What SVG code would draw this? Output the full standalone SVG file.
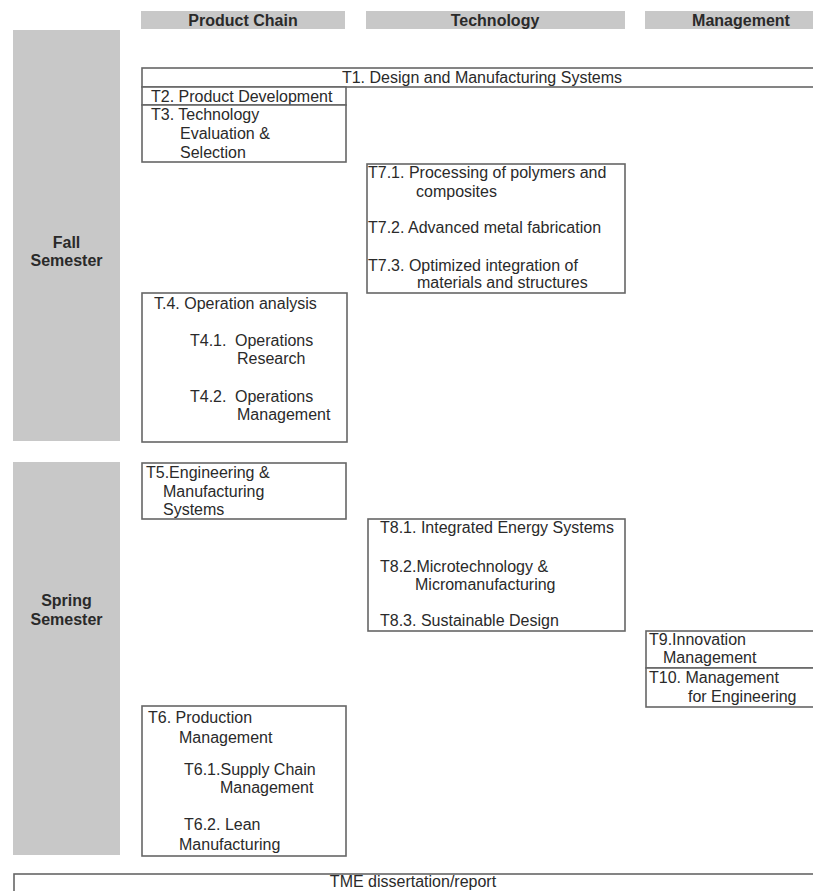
<svg xmlns="http://www.w3.org/2000/svg" width="813" height="891" viewBox="0 0 813 891">
<style>
.bg{fill:#c8c8c8}
.box{fill:#fff;stroke:#666;stroke-width:1.6}
text{font-family:"Liberation Sans",Arial,sans-serif;font-size:16px;fill:#2a2a2a}
.h{font-weight:bold;text-anchor:middle}
.c{text-anchor:middle}
</style>
<rect width="813" height="891" fill="#fff"/>
<g id="headers">
<rect class="bg" x="141" y="11" width="204" height="18"/>
<text class="h" x="243" y="26">Product Chain</text>
<rect class="bg" x="366" y="11" width="259" height="18"/>
<text class="h" x="495" y="26">Technology</text>
<rect class="bg" x="645" y="11" width="168" height="18"/>
<text class="h" x="741" y="26">Management</text>
</g>
<g id="fall">
<rect class="bg" x="13" y="30" width="107" height="411"/>
<text class="h" x="66.5" y="248">Fall</text>
<text class="h" x="66.5" y="266">Semester</text>
</g>
<g id="spring">
<rect class="bg" x="13" y="462" width="107" height="393"/>
<text class="h" x="66.5" y="606">Spring</text>
<text class="h" x="66.5" y="625">Semester</text>
</g>
<g id="T1">
<rect class="box" x="142" y="68" width="675" height="19"/>
<text class="c" x="482" y="83">T1. Design and Manufacturing Systems</text>
</g>
<g id="T2">
<rect class="box" x="142" y="87" width="204" height="18"/>
<text x="151" y="102">T2. Product Development</text>
</g>
<g id="T3">
<rect class="box" x="142" y="105" width="204" height="57"/>
<text x="151" y="120">T3. Technology</text>
<text x="180" y="139">Evaluation &amp;</text>
<text x="180" y="158">Selection</text>
</g>
<g id="T7">
<rect class="box" x="367" y="164" width="258" height="129"/>
<text x="368" y="178">T7.1. Processing of polymers and</text>
<text x="416" y="197">composites</text>
<text x="368" y="233">T7.2. Advanced metal fabrication</text>
<text x="368" y="271">T7.3. Optimized integration of</text>
<text x="417" y="288">materials and structures</text>
</g>
<g id="T4">
<rect class="box" x="142" y="293" width="205" height="149"/>
<text x="154" y="309">T.4. Operation analysis</text>
<text x="190" y="346">T4.1.</text>
<text x="235" y="346">Operations</text>
<text x="237" y="364">Research</text>
<text x="190" y="402">T4.2.</text>
<text x="235" y="402">Operations</text>
<text x="237" y="420">Management</text>
</g>
<g id="T5">
<rect class="box" x="142" y="463" width="204" height="56"/>
<text x="146" y="478">T5.Engineering &amp;</text>
<text x="163" y="497">Manufacturing</text>
<text x="163" y="515">Systems</text>
</g>
<g id="T8">
<rect class="box" x="368" y="519" width="257" height="112"/>
<text x="380" y="533">T8.1. Integrated Energy Systems</text>
<text x="380" y="572">T8.2.Microtechnology &amp;</text>
<text x="415" y="590">Micromanufacturing</text>
<text x="380" y="626">T8.3. Sustainable Design</text>
</g>
<g id="T9">
<rect class="box" x="646" y="631" width="171" height="37"/>
<text x="649" y="645">T9.Innovation</text>
<text x="663" y="663">Management</text>
</g>
<g id="T10">
<rect class="box" x="646" y="668" width="171" height="39"/>
<text x="649" y="683">T10. Management</text>
<text x="688" y="702">for Engineering</text>
</g>
<g id="T6">
<rect class="box" x="142" y="706" width="204" height="150"/>
<text x="148" y="723">T6. Production</text>
<text x="179" y="743">Management</text>
<text x="184" y="775">T6.1.Supply Chain</text>
<text x="220" y="793">Management</text>
<text x="184" y="830">T6.2. Lean</text>
<text x="179" y="850">Manufacturing</text>
</g>
<g id="TME">
<rect class="box" x="14" y="874" width="803" height="22"/>
<text class="c" x="413" y="887">TME dissertation/report</text>
</g>
<g id="connectors"></g>
</svg>
